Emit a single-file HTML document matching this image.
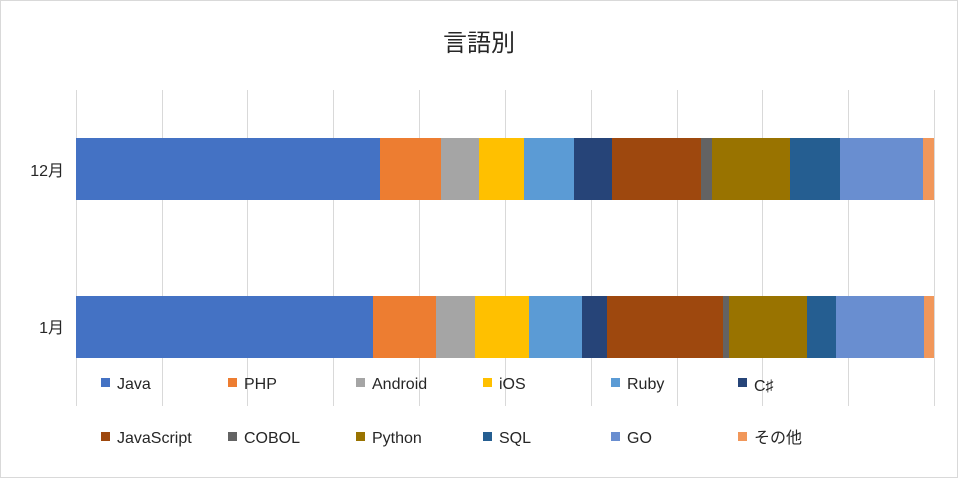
<!DOCTYPE html>
<html><head><meta charset="utf-8"><style>
body{margin:0;background:#fff}
svg text{font-family:"Liberation Sans","Noto Sans CJK JP",sans-serif;fill:#262626}
</style></head><body>
<svg width="958" height="478" xmlns="http://www.w3.org/2000/svg">
<rect x="0.5" y="0.5" width="957" height="477" fill="#fff" stroke="#d9d9d9"/>
<text x="479" y="51" font-size="24" text-anchor="middle">言語別</text>
<g stroke="#d9d9d9" stroke-width="1">
<line x1="76.5" y1="90" x2="76.5" y2="406"/>
<line x1="162.5" y1="90" x2="162.5" y2="406"/>
<line x1="247.5" y1="90" x2="247.5" y2="406"/>
<line x1="333.5" y1="90" x2="333.5" y2="406"/>
<line x1="419.5" y1="90" x2="419.5" y2="406"/>
<line x1="505.5" y1="90" x2="505.5" y2="406"/>
<line x1="591.5" y1="90" x2="591.5" y2="406"/>
<line x1="677.5" y1="90" x2="677.5" y2="406"/>
<line x1="762.5" y1="90" x2="762.5" y2="406"/>
<line x1="848.5" y1="90" x2="848.5" y2="406"/>
<line x1="934.5" y1="90" x2="934.5" y2="406"/>
</g>
<g>
<rect x="76" y="138" width="304" height="62" fill="#4472C4"/>
<rect x="380" y="138" width="61" height="62" fill="#ED7D31"/>
<rect x="441" y="138" width="38" height="62" fill="#A5A5A5"/>
<rect x="479" y="138" width="45" height="62" fill="#FFC000"/>
<rect x="524" y="138" width="50" height="62" fill="#5B9BD5"/>
<rect x="574" y="138" width="38" height="62" fill="#264478"/>
<rect x="612" y="138" width="89" height="62" fill="#9E480E"/>
<rect x="701" y="138" width="11" height="62" fill="#636363"/>
<rect x="712" y="138" width="78" height="62" fill="#997300"/>
<rect x="790" y="138" width="50" height="62" fill="#255E91"/>
<rect x="840" y="138" width="83" height="62" fill="#698ED0"/>
<rect x="923" y="138" width="11" height="62" fill="#F1975A"/>

<rect x="76" y="296" width="297" height="62" fill="#4472C4"/>
<rect x="373" y="296" width="63" height="62" fill="#ED7D31"/>
<rect x="436" y="296" width="39" height="62" fill="#A5A5A5"/>
<rect x="475" y="296" width="54" height="62" fill="#FFC000"/>
<rect x="529" y="296" width="53" height="62" fill="#5B9BD5"/>
<rect x="582" y="296" width="25" height="62" fill="#264478"/>
<rect x="607" y="296" width="116" height="62" fill="#9E480E"/>
<rect x="723" y="296" width="6" height="62" fill="#636363"/>
<rect x="729" y="296" width="78" height="62" fill="#997300"/>
<rect x="807" y="296" width="29" height="62" fill="#255E91"/>
<rect x="836" y="296" width="88" height="62" fill="#698ED0"/>
<rect x="924" y="296" width="10" height="62" fill="#F1975A"/>
</g>
<text x="64" y="176" font-size="16" text-anchor="end">12月</text>
<text x="64" y="333" font-size="16" text-anchor="end">1月</text>
<g font-size="16">
<rect x="101" y="378" width="9" height="9" fill="#4472C4"/><text x="117" y="389">Java</text>
<rect x="228" y="378" width="9" height="9" fill="#ED7D31"/><text x="244" y="389">PHP</text>
<rect x="356" y="378" width="9" height="9" fill="#A5A5A5"/><text x="372" y="389">Android</text>
<rect x="483" y="378" width="9" height="9" fill="#FFC000"/><text x="499" y="389">iOS</text>
<rect x="611" y="378" width="9" height="9" fill="#5B9BD5"/><text x="627" y="389">Ruby</text>
<rect x="738" y="378" width="9" height="9" fill="#264478"/><text x="754" y="391">C♯</text>
<rect x="101" y="432" width="9" height="9" fill="#9E480E"/><text x="117" y="443">JavaScript</text>
<rect x="228" y="432" width="9" height="9" fill="#636363"/><text x="244" y="443">COBOL</text>
<rect x="356" y="432" width="9" height="9" fill="#997300"/><text x="372" y="443">Python</text>
<rect x="483" y="432" width="9" height="9" fill="#255E91"/><text x="499" y="443">SQL</text>
<rect x="611" y="432" width="9" height="9" fill="#698ED0"/><text x="627" y="443">GO</text>
<rect x="738" y="432" width="9" height="9" fill="#F1975A"/><text x="754" y="443">その他</text>
</g>
</svg>
</body></html>
